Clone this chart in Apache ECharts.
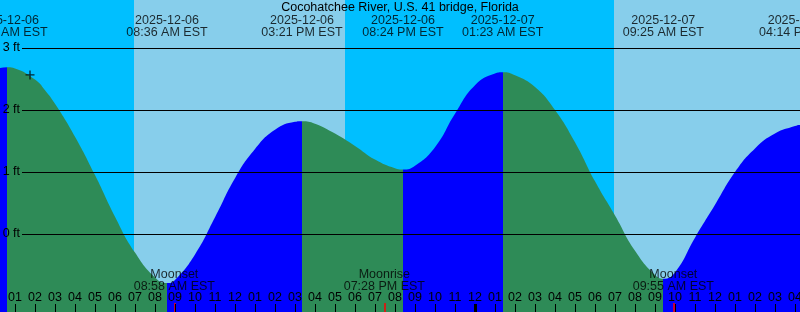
<!DOCTYPE html>
<html>
<head>
<meta charset="utf-8">
<script src="https://cdn.jsdelivr.net/npm/echarts@6/dist/echarts.min.js"></script>
<style>html,body{margin:0;padding:0;background:#00BFFF}#c{width:800px;height:312px}</style>
</head>
<body>
<div id="c"></div>
<script>
// ---- data (hours since 2025-12-06 00:00 EST, heights in ft) ----
const titleText = 'Cocohatchee River, U.S. 41 bridge, Florida';
const tideHours = [0, 0.6, 1, 2, 2.5, 3, 4, 5, 6, 7, 8, 8.6, 9, 10, 11, 12, 13, 14, 15, 15.35, 16, 17, 18, 19, 20, 20.4,
  21, 22, 23, 24, 25, 25.383, 26, 27, 28, 29, 30, 31, 32, 33, 33.417, 34, 35, 36, 37, 38, 39, 40, 40.233, 41];
const tideFeet = [2.66, 2.69, 2.67, 2.49, 2.32, 2.1, 1.57, 0.95, 0.28, -0.3, -0.7, -0.79, -0.74, -0.33, 0.27, 0.9, 1.37, 1.68, 1.81, 1.82, 1.78, 1.62, 1.42, 1.2, 1.06, 1.04,
  1.1, 1.4, 1.94, 2.4, 2.59, 2.61, 2.56, 2.37, 2.0, 1.48, 0.85, 0.3, -0.27, -0.66, -0.72, -0.62, -0.06, 0.47, 1.0, 1.38, 1.62, 1.74, 1.76, 1.7];

const extremeHours = [0.6, 8.6, 15.35, 20.4, 25.383, 33.417, 40.233];
const extremeFeet = [2.69, -0.79, 1.82, 1.04, 2.61, -0.72, 1.76];
const extremeDates = ['2025-12-06', '2025-12-06', '2025-12-06', '2025-12-06', '2025-12-07', '2025-12-07', '2025-12-07'];
const extremeTimes = ['12:36 AM EST', '08:36 AM EST', '03:21 PM EST', '08:24 PM EST', '01:23 AM EST', '09:25 AM EST', '04:14 PM EST'];

const dayStartHours = [6.95, 30.95];   // sunrise
const dayEndHours = [17.5, 41.5];      // sunset

const moonNames = ['Moonset', 'Moonrise', 'Moonset'];
const moonTimes = ['08:58 AM EST', '07:28 PM EST', '09:55 AM EST'];
const moonHours = [8.967, 19.467, 33.917];

const midnightHours = [24];
const footLevels = [0, 1, 2, 3];
const markerPoint = [1.75, 2.565];

// ---- layout ----
const PX_PER_FT = 62, ZERO_Y = 234, H = 312;
const yMax = ZERO_Y / PX_PER_FT;
const yMin = -(H - ZERO_Y) / PX_PER_FT;
const xMin = 0, xMax = 40.25;
const lineStartHour = 1.35;
const RISE = '#0000FF', FALL = '#2E8B57', NIGHT = '#00BFFF', DAY = '#87CEEB';
const FS = 12.5;

const pieces = [];
pieces.push({ gte: -100, lt: extremeHours[0], color: extremeFeet[0] > extremeFeet[1] ? RISE : FALL });
for (let i = 0; i < extremeHours.length; i++) {
  const next = i + 1 < extremeHours.length ? extremeHours[i + 1] : 100;
  const rising = i + 1 < extremeHours.length ? extremeFeet[i + 1] > extremeFeet[i] : extremeFeet[i] < extremeFeet[i - 1];
  pieces.push({ gte: extremeHours[i], lt: next, color: rising ? RISE : FALL });
}

const tickLen = 8 / PX_PER_FT;
const markLines = footLevels.map(v => [
  { coord: [lineStartHour, v], name: v + ' ft' },
  { coord: [xMax, v] }
]);
moonHours.forEach(t => markLines.push([
  { coord: [t, yMin + 9 / PX_PER_FT], name: '', lineStyle: { color: '#FF0000', width: 1.5 }, label: { show: false } },
  { coord: [t, yMin] }
]));
midnightHours.forEach(t => markLines.push([
  { coord: [t, yMin + tickLen], name: '', lineStyle: { color: '#000', width: 3 }, label: { show: false } },
  { coord: [t, yMin] }
]));

const font = 'Liberation Sans, Arial, sans-serif';
const chart = echarts.init(document.getElementById('c'), null, { renderer: 'canvas' });
chart.setOption({
  animation: false,
  backgroundColor: NIGHT,
  title: {
    text: titleText, left: 'center', top: 1, padding: 0,
    textStyle: { fontSize: FS, fontWeight: 'normal', color: '#000', fontFamily: font }
  },
  grid: { left: -5, right: 0, top: 0, bottom: 0, containLabel: false, outerBoundsMode: 'none' },
  xAxis: {
    type: 'value', min: xMin, max: xMax, interval: 1, z: 10, position: 'bottom',
    axisLine: { show: false, onZero: false },
    splitLine: { show: false },
    axisTick: { show: true, inside: true, length: 8, lineStyle: { color: '#000', width: 1 } },
    axisLabel: {
      inside: true, margin: 8, color: '#000', fontSize: FS, fontFamily: font,
      showMinLabel: false, showMaxLabel: false, hideOverlap: false,
      formatter: v => {
        if (v <= 0 || Math.abs(v - Math.round(v)) > 1e-6) return '';
        let hr = Math.round(v) % 12; if (hr === 0) hr = 12;
        return (hr < 10 ? '0' : '') + hr;
      }
    }
  },
  yAxis: { type: 'value', min: yMin, max: yMax, show: false, splitLine: { show: false } },
  visualMap: {
    type: 'piecewise', show: false, dimension: 0, seriesIndex: 0, pieces: pieces
  },
  series: [
    {
      type: 'line', z: 2,
      data: tideHours.map((h, i) => [h, tideFeet[i]]),
      smooth: 0.5, symbol: 'none', silent: true,
      lineStyle: { opacity: 0 },
      areaStyle: { opacity: 1, origin: 'start' },
      markArea: {
        silent: true, z: 1,
        itemStyle: { color: DAY },
        data: dayStartHours.map((s, i) => [{ xAxis: s }, { xAxis: dayEndHours[i] }])
      },
      markLine: {
        silent: true, symbol: ['none', 'none'], z: 5,
        lineStyle: { color: '#000', width: 1, type: 'solid' },
        label: { show: true, position: 'start', distance: 2, formatter: '{b}', color: '#000', fontSize: FS, fontFamily: font },
        data: markLines
      }
    },
    {
      type: 'scatter', z: 6, silent: true, symbolSize: 0,
      data: extremeHours.map((h, i) => [h, yMax, extremeDates[i], extremeTimes[i]]),
      label: {
        show: true, position: 'inside', offset: [0, 27], align: 'center', verticalAlign: 'middle',
        lineHeight: 12, fontSize: FS, color: '#000', fontFamily: font,
        formatter: p => p.value[2] + '\n' + p.value[3]
      }
    },
    {
      type: 'scatter', z: 6, silent: true, symbolSize: 0,
      data: moonHours.map((h, i) => [h, yMin, moonNames[i], moonTimes[i]]),
      label: {
        show: true, position: 'inside', offset: [0, -31], align: 'center', verticalAlign: 'middle',
        lineHeight: 12, fontSize: FS, color: '#000', fontFamily: font,
        formatter: p => p.value[2] + '\n' + p.value[3]
      }
    },
    {
      type: 'scatter', z: 6, silent: true,
      symbol: 'path://M0,5L10,5M5,0L5,10', symbolSize: 9,
      itemStyle: { color: 'none', borderColor: '#000', borderWidth: 1.3 },
      data: [markerPoint]
    }
  ]
});
</script>
</body>
</html>
